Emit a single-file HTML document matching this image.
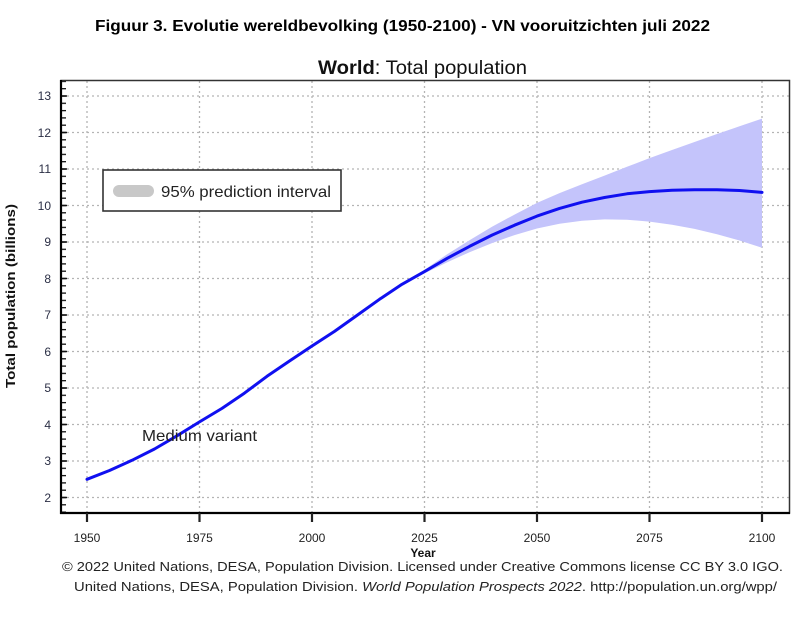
<!DOCTYPE html>
<html>
<head>
<meta charset="utf-8">
<style>
html,body{margin:0;padding:0;background:#fff;}
svg{display:block;}
text{font-family:"Liberation Sans",Arial,sans-serif;}
</style>
</head>
<body>
<svg width="810" height="623" viewBox="0 0 810 623" xmlns="http://www.w3.org/2000/svg">
<defs>
<pattern id="minor" patternUnits="userSpaceOnUse" x="0" y="95.35" width="10" height="7.3">
<rect x="0" y="0" width="10" height="1.3" fill="#111"/>
</pattern>
</defs>
<rect width="810" height="623" fill="#fff"/>

<!-- Figure title -->
<text x="95" y="31" font-size="16" font-weight="bold" fill="#000" textLength="615" lengthAdjust="spacingAndGlyphs">Figuur 3. Evolutie wereldbevolking (1950-2100) - VN vooruitzichten juli 2022</text>

<!-- Chart title -->
<text x="318" y="74" font-size="19" fill="#111" textLength="209" lengthAdjust="spacingAndGlyphs"><tspan font-weight="bold">World</tspan>: Total population</text>

<!-- grid horizontal -->
<g stroke="#b4b4b4" stroke-width="1.3" stroke-dasharray="2,3" fill="none">
<line x1="62" y1="96" x2="789" y2="96"/>
<line x1="62" y1="132.5" x2="789" y2="132.5"/>
<line x1="62" y1="169" x2="789" y2="169"/>
<line x1="62" y1="205.5" x2="789" y2="205.5"/>
<line x1="62" y1="242" x2="789" y2="242"/>
<line x1="62" y1="278.5" x2="789" y2="278.5"/>
<line x1="62" y1="315" x2="789" y2="315"/>
<line x1="62" y1="351.5" x2="789" y2="351.5"/>
<line x1="62" y1="388" x2="789" y2="388"/>
<line x1="62" y1="424.5" x2="789" y2="424.5"/>
<line x1="62" y1="461" x2="789" y2="461"/>
<line x1="62" y1="497.5" x2="789" y2="497.5"/>
<line x1="87" y1="81" x2="87" y2="512"/>
<line x1="199.5" y1="81" x2="199.5" y2="512"/>
<line x1="312" y1="81" x2="312" y2="512"/>
<line x1="424.5" y1="81" x2="424.5" y2="512"/>
<line x1="537" y1="81" x2="537" y2="512"/>
<line x1="649.5" y1="81" x2="649.5" y2="512"/>
<line x1="762" y1="81" x2="762" y2="512"/>
</g>

<!-- prediction interval -->
<polygon fill="#c4c4fb" points="411,279.6 424.5,269.7 447,254.4 469.5,240.2 492,226.7 514.5,214.6 537,202.9 559.5,193.1 582,184.3 604.5,175.6 627,166.8 649.5,158.1 672,150 694.5,142 717,134 739.5,126.3 762,118.6 762,247.8 739.5,240.5 717,234.3 694.5,228.9 672,224.8 649.5,221.6 627,219.7 604.5,219.4 582,220.8 559.5,223.75 537,228.5 514.5,235.1 492,243.1 469.5,252.2 447,262.4 424.5,273.4 411,279.6"/>

<!-- legend -->
<rect x="103" y="170" width="238" height="41" fill="#fff" stroke="#333" stroke-width="1.6"/>
<rect x="113" y="185" width="41" height="12" rx="6" ry="6" fill="#c8c8c8"/>
<text x="161" y="197" font-size="16" fill="#222" textLength="170" lengthAdjust="spacingAndGlyphs">95% prediction interval</text>

<!-- median line -->
<polyline fill="none" stroke="#1010f0" stroke-width="3" stroke-linejoin="round" stroke-linecap="round" points="87,479.3 109.5,470.5 132,460.3 154.5,449 177,435.8 199.5,421.9 222,408.4 244.5,393.1 267,376.3 289.5,361 312,346 334.5,331.4 357,315.4 379.5,299.3 402,284.3 424.5,271.6 447,258.4 469.5,246.4 492,235.1 514.5,225.2 537,216.1 559.5,208.4 582,202.2 604.5,197.5 627,193.8 649.5,191.6 672,190.2 694.5,189.8 717,189.8 739.5,190.5 762,192.4"/>

<text x="142" y="441" font-size="16" fill="#222" textLength="115" lengthAdjust="spacingAndGlyphs">Medium variant</text>

<!-- frame -->
<rect x="61" y="80.5" width="728.5" height="432.5" fill="none" stroke="#333" stroke-width="1.5"/>
<line x1="61" y1="80" x2="61" y2="514" stroke="#000" stroke-width="2.2"/>
<line x1="60" y1="513" x2="790" y2="513" stroke="#000" stroke-width="2.2"/>

<!-- minor ticks left -->
<rect x="62" y="81" width="4" height="431" fill="url(#minor)"/>
<g stroke="#111" stroke-width="1.5">
<line x1="62" y1="96" x2="67" y2="96"/>
<line x1="62" y1="132.5" x2="67" y2="132.5"/>
<line x1="62" y1="169" x2="67" y2="169"/>
<line x1="62" y1="205.5" x2="67" y2="205.5"/>
<line x1="62" y1="242" x2="67" y2="242"/>
<line x1="62" y1="278.5" x2="67" y2="278.5"/>
<line x1="62" y1="315" x2="67" y2="315"/>
<line x1="62" y1="351.5" x2="67" y2="351.5"/>
<line x1="62" y1="388" x2="67" y2="388"/>
<line x1="62" y1="424.5" x2="67" y2="424.5"/>
<line x1="62" y1="461" x2="67" y2="461"/>
<line x1="62" y1="497.5" x2="67" y2="497.5"/>
</g>

<!-- x ticks -->
<g stroke="#222" stroke-width="2.2">
<line x1="87" y1="513" x2="87" y2="522"/>
<line x1="199.5" y1="513" x2="199.5" y2="522"/>
<line x1="312" y1="513" x2="312" y2="522"/>
<line x1="424.5" y1="513" x2="424.5" y2="522"/>
<line x1="537" y1="513" x2="537" y2="522"/>
<line x1="649.5" y1="513" x2="649.5" y2="522"/>
<line x1="762" y1="513" x2="762" y2="522"/>
</g>

<!-- y labels -->
<g font-size="12" fill="#2b2f45" text-anchor="end">
<text x="51" y="100">13</text>
<text x="51" y="137">12</text>
<text x="51" y="173">11</text>
<text x="51" y="210">10</text>
<text x="51" y="246">9</text>
<text x="51" y="283">8</text>
<text x="51" y="319">7</text>
<text x="51" y="356">6</text>
<text x="51" y="392">5</text>
<text x="51" y="429">4</text>
<text x="51" y="465">3</text>
<text x="51" y="502">2</text>
</g>

<!-- x labels -->
<g font-size="12" fill="#222" text-anchor="middle">
<text x="87" y="542">1950</text>
<text x="199.5" y="542">1975</text>
<text x="312" y="542">2000</text>
<text x="424.5" y="542">2025</text>
<text x="537" y="542">2050</text>
<text x="649.5" y="542">2075</text>
<text x="762" y="542">2100</text>
</g>

<text x="423" y="557" font-size="12" font-weight="bold" fill="#111" text-anchor="middle">Year</text>

<text transform="translate(15,296) rotate(-90)" font-size="13" font-weight="bold" fill="#111" text-anchor="middle" textLength="184" lengthAdjust="spacingAndGlyphs">Total population (billions)</text>

<!-- footer -->
<text x="62" y="571" font-size="13" fill="#222" textLength="721" lengthAdjust="spacingAndGlyphs">© 2022 United Nations, DESA, Population Division. Licensed under Creative Commons license CC BY 3.0 IGO.</text>
<text x="74" y="591" font-size="13" fill="#222" textLength="703" lengthAdjust="spacingAndGlyphs">United Nations, DESA, Population Division. <tspan font-style="italic">World Population Prospects 2022</tspan>. http://population.un.org/wpp/</text>
</svg>
</body>
</html>
